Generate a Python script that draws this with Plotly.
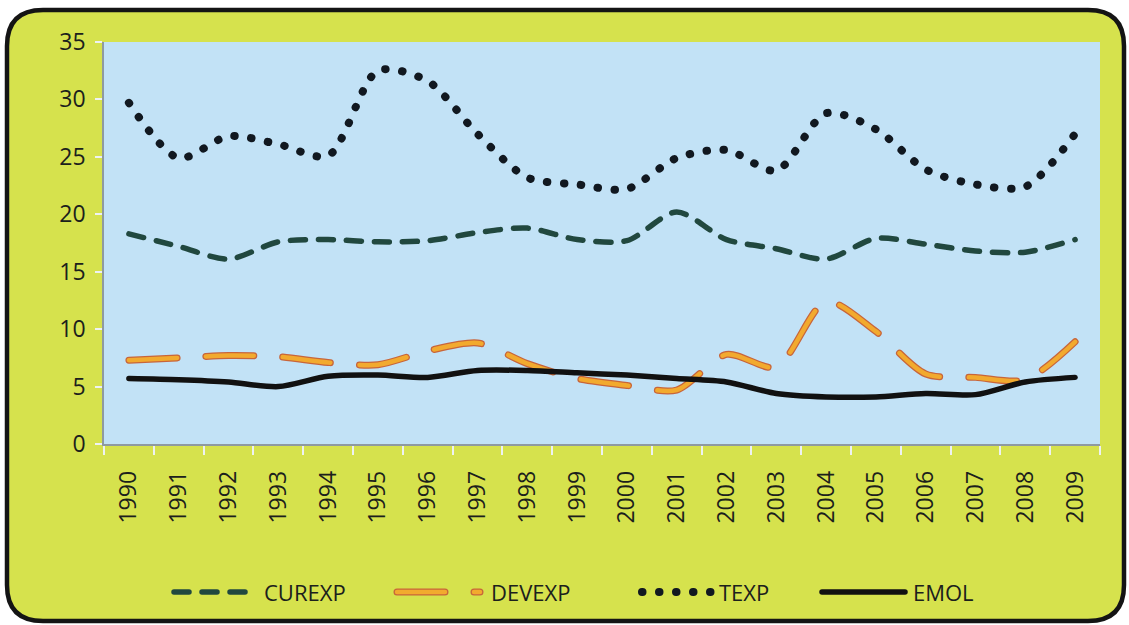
import plotly.graph_objects as go

years = ["1990", "1991", "1992", "1993", "1994", "1995", "1996", "1997", "1998", "1999",
         "2000", "2001", "2002", "2003", "2004", "2005", "2006", "2007", "2008", "2009"]
curexp = [18.3, 17.2, 16.1, 17.6, 17.8, 17.6, 17.7, 18.4, 18.8, 17.8,
          17.7, 20.2, 17.8, 17.0, 16.1, 17.9, 17.4, 16.8, 16.7, 17.8]
devexp = [7.3, 7.5, 7.7, 7.6, 7.1, 6.9, 8.1, 8.8, 7.0, 5.7,
          5.1, 4.7, 7.8, 6.7, 12.4, 9.8, 6.1, 5.8, 5.6, 8.9]
texp = [29.7, 24.9, 26.8, 26.1, 25.1, 32.5, 31.6, 27.0, 23.2, 22.6,
        22.2, 24.9, 25.6, 23.8, 28.8, 27.4, 23.9, 22.6, 22.4, 27.0]
emol = [5.7, 5.6, 5.4, 5.0, 5.9, 6.0, 5.8, 6.4, 6.4, 6.2,
        6.0, 5.7, 5.4, 4.4, 4.1, 4.1, 4.4, 4.3, 5.4, 5.8]
y_ticks = [0, 5, 10, 15, 20, 25, 30, 35]
series_names = ["CUREXP", "DEVEXP", "TEXP", "EMOL"]

W, H = 1129, 625
L, R, T, B = 104, 29, 42, 181
PW, PH = W - L - R, H - T - B

def px(x):
    return (x - L) / PW

def py(y):
    return (T + PH - y) / PH

FONT = "'Open Sans', 'Noto Sans', sans-serif"
YELLOW = "#d6e24d"
BLUE = "#c2e2f6"
TEXT = "#1b201c"

styles = {
    "CUREXP": [dict(color="#21483f", width=5.5, dash="15px,13px")],
    "DEVEXP": [dict(color="#c8653a", width=7, dash="48px,29px"),
               dict(color="#f2aa2e", width=4.5, dash="48px,29px")],
    "TEXP": [dict(color="#111820", width=8, dash="0.5px,16.5px")],
    "EMOL": [dict(color="#111111", width=5.5)],
}
values = {"CUREXP": curexp, "DEVEXP": devexp, "TEXP": texp, "EMOL": emol}

fig = go.Figure()
for name in series_names:
    for st in styles[name]:
        fig.add_trace(go.Scatter(x=years, y=values[name], name=name, mode="lines",
                                 showlegend=False,
                                 line=dict(shape="spline", smoothing=0.8, **st)))

# rounded outer frame
x0, x1, y0, y1, r = 7, 1124, 10, 621, 36
path = (f"M {px(x0+r)},{py(y0)} L {px(x1-r)},{py(y0)} Q {px(x1)},{py(y0)} {px(x1)},{py(y0+r)} "
        f"L {px(x1)},{py(y1-r)} Q {px(x1)},{py(y1)} {px(x1-r)},{py(y1)} "
        f"L {px(x0+r)},{py(y1)} Q {px(x0)},{py(y1)} {px(x0)},{py(y1-r)} "
        f"L {px(x0)},{py(y0+r)} Q {px(x0)},{py(y0)} {px(x0+r)},{py(y0)} Z")
shapes = [
    dict(type="path", path=path, xref="paper", yref="paper", layer="below",
         fillcolor=YELLOW, line=dict(color="#141414", width=4.5)),
    dict(type="rect", x0=0, x1=1, y0=0, y1=1, xref="paper", yref="paper", layer="below",
         fillcolor=BLUE, line=dict(width=0)),
]

# custom legend (swatch pixel spans and text positions)
legend_y = 592
legend_items = [
    ("CUREXP", 174, 246, 262),
    ("DEVEXP", 397, 480, 489),
    ("TEXP", 642, 712, 717),
    ("EMOL", 822, 905, 911),
]
annotations = []
for name, sx0, sx1, tx in legend_items:
    for st in styles[name]:
        shapes.append(dict(type="line", xref="paper", yref="paper",
                           x0=px(sx0), x1=px(sx1), y0=py(legend_y), y1=py(legend_y),
                           line=st, layer="above"))
    annotations.append(dict(text=name, xref="paper", yref="paper", x=px(tx), y=py(legend_y),
                            xanchor="left", yanchor="middle", showarrow=False,
                            font=dict(size=22, color=TEXT, family=FONT)))

fig.update_layout(
    width=W, height=H,
    margin=dict(l=L, r=R, t=T, b=B, autoexpand=False),
    paper_bgcolor="white", plot_bgcolor=BLUE,
    shapes=shapes, annotations=annotations,
    font=dict(family=FONT, size=23, color=TEXT),
    showlegend=False,
    xaxis=dict(type="category", showgrid=False, zeroline=False,
               showline=True, linecolor="#8f9aa0", linewidth=1.5,
               ticks="outside", tickson="boundaries", ticklen=9, tickcolor="#eef2f2", tickwidth=1.5,
               tickangle=-90, tickfont=dict(size=23, color=TEXT), ticklabelstandoff=16,
               range=[-0.5, 19.5]),
    yaxis=dict(range=[0, 35], tickvals=y_ticks, showgrid=False, zeroline=False,
               showline=True, linecolor="#8f9aa0", linewidth=1.5,
               ticks="outside", ticklen=7, tickcolor="#eef2f2", tickwidth=1.5,
               tickfont=dict(size=23, color=TEXT), ticklabelstandoff=5),
)

post = """
document.body.style.margin = '0';
document.body.style.padding = '0';
var gd = document.getElementById('{plot_id}');
function rc(){
  gd.querySelectorAll('path.js-line').forEach(function(p){ p.style.strokeLinecap='round'; });
  gd.querySelectorAll('.shapelayer path').forEach(function(p){ p.style.strokeLinecap='round'; });
}
rc();
gd.on('plotly_afterplot', rc);
"""
fig.write_html("out.html", post_script=post, config={"displayModeBar": False})
